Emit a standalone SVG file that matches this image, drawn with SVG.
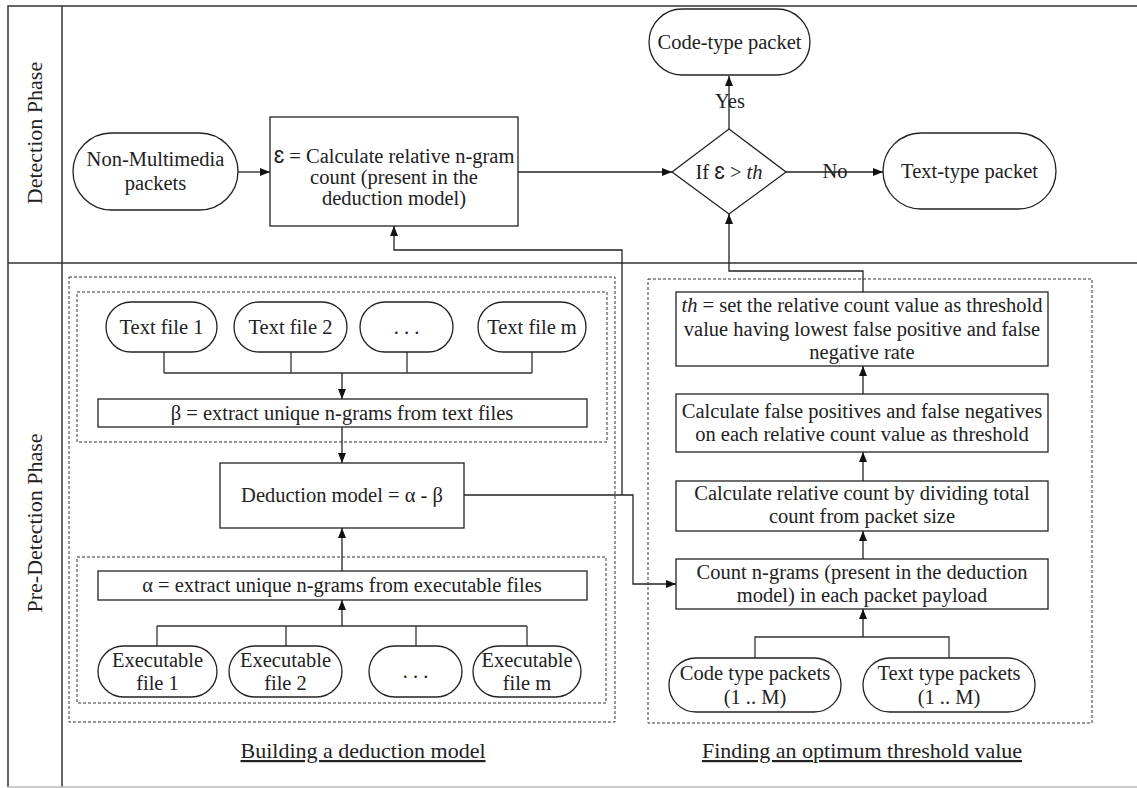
<svg xmlns="http://www.w3.org/2000/svg" width="1137" height="788" viewBox="0 0 1137 788">
<style>
  .t{font-family:"Liberation Serif","Times New Roman",serif;font-size:20.5px;fill:#222;text-anchor:middle}
  .lbl{font-family:"Liberation Serif","Times New Roman",serif;font-size:22px;fill:#222;text-anchor:middle}
  .ul{text-decoration:underline}
  .s{fill:#fff;stroke:#222;stroke-width:1.3}
  .frame{fill:none;stroke:#333;stroke-width:1.5}
  .dash{fill:none;stroke:#333;stroke-width:1;stroke-dasharray:3 2}
  .c{fill:none;stroke:#333;stroke-width:1.3}
  .ca{fill:none;stroke:#222;stroke-width:1.3;marker-end:url(#ah)}
  .eps{font-family:"Liberation Sans",Arial,sans-serif}
</style>
<defs>
  <marker id="ah" markerUnits="userSpaceOnUse" markerWidth="11" markerHeight="8" refX="10" refY="4" orient="auto">
    <path d="M0,0 L10,4 L0,8 z" fill="#111"/>
  </marker>
</defs>
<rect width="1137" height="788" fill="#fff"/>

<g id="frame">
  <path class="frame" d="M1137,6 H8 V787 M62,6 V787 M8,263 H1137"/>
  <path d="M8,787 H1137" stroke="#bbb" stroke-width="1.5" fill="none"/>
  <text class="lbl" transform="translate(42,133) rotate(-90)">Detection Phase</text>
  <text class="lbl" transform="translate(42,523) rotate(-90)">Pre-Detection Phase</text>
</g>

<g id="groups">
  <rect class="dash" x="69" y="277" width="546" height="445"/>
  <rect class="dash" x="77" y="292" width="530" height="150"/>
  <rect class="dash" x="77" y="557" width="529" height="146"/>
  <rect class="dash" x="648" y="279" width="444" height="444"/>
  <text class="lbl ul" x="363" y="758">Building a deduction model</text>
  <text class="lbl ul" x="862" y="758">Finding an optimum threshold value</text>
</g>

<g id="connectors">
  <path class="ca" d="M238,172 H270"/>
  <path class="ca" d="M518,172 H672"/>
  <path class="ca" d="M729,129 V76"/>
  <path class="ca" d="M786,172 H883"/>
  <path class="ca" d="M863,292 V271 H729 V214"/>
  <path class="c" d="M164,352 V373 M291,352 V373 M407,352 V373 M532,352 V373 M164,373 H532"/>
  <path class="ca" d="M342,373 V399" stroke-width="1.8"/>
  <path class="ca" d="M342,427 V463"/>
  <path class="ca" d="M342,571 V528"/>
  <path class="c" d="M157,646 V626 M286,646 V626 M416,646 V626 M527,646 V626 M157,626 H527"/>
  <path class="ca" d="M342,626 V600" stroke-width="1.8"/>
  <path class="ca" d="M464,495 H633 V584 H676"/>
  <path class="ca" d="M622,495 V250 H394 V226"/>
  <path class="ca" d="M863,394 V366"/>
  <path class="ca" d="M863,481 V452"/>
  <path class="ca" d="M863,559 V531"/>
  <path class="c" d="M755,658 V637 H949 V658"/>
  <path class="ca" d="M863,637 V609"/>
</g>

<g id="non-multimedia">
  <rect class="s" x="73" y="133" width="165" height="77" rx="38.5"/>
  <text class="t" x="155.5" y="166">Non-Multimedia</text>
  <text class="t" x="155.5" y="190">packets</text>
</g>

<g id="epsilon-box">
  <rect class="s" x="270" y="117" width="248" height="109"/>
  <text class="t" x="394" y="163"><tspan class="eps" font-size="23px">ɛ</tspan> = Calculate relative n-gram</text>
  <text class="t" x="394" y="184">count (present in the</text>
  <text class="t" x="394" y="205">deduction model)</text>
</g>

<g id="decision">
  <polygon class="s" points="672,172 729,129 786,172 729,214"/>
  <text class="t" x="729" y="179">If <tspan class="eps" font-size="23px">ɛ</tspan> &gt; <tspan font-style="italic">th</tspan></text>
</g>

<g id="code-type-packet">
  <rect class="s" x="649" y="9" width="161" height="66" rx="33"/>
  <text class="t" x="729.5" y="49">Code-type packet</text>
</g>

<g id="text-type-packet">
  <rect class="s" x="883" y="133" width="173" height="76" rx="38"/>
  <text class="t" x="969.5" y="178">Text-type packet</text>
</g>

<g id="yes-label"><text class="t" x="730" y="108">Yes</text></g>
<g id="no-label"><text class="t" x="835" y="178">No</text></g>

<g id="text-file-1">
  <rect class="s" x="106" y="302" width="111" height="50" rx="25"/>
  <text class="t" x="161.5" y="334">Text file 1</text>
</g>
<g id="text-file-2">
  <rect class="s" x="234" y="302" width="113" height="50" rx="25"/>
  <text class="t" x="290.5" y="334">Text file 2</text>
</g>
<g id="text-file-dots">
  <rect class="s" x="360" y="302" width="93" height="50" rx="25"/>
  <text class="t" x="406.5" y="334">. . .</text>
</g>
<g id="text-file-m">
  <rect class="s" x="478" y="302" width="108" height="50" rx="25"/>
  <text class="t" x="532" y="334">Text file m</text>
</g>

<g id="beta-box">
  <rect class="s" x="98" y="399" width="489" height="28"/>
  <text class="t" x="342" y="420">β = extract unique n-grams from text files</text>
</g>

<g id="deduction-model">
  <rect class="s" x="220" y="463" width="244" height="65"/>
  <text class="t" x="342" y="502">Deduction model = α - β</text>
</g>

<g id="alpha-box">
  <rect class="s" x="98" y="571" width="489" height="29"/>
  <text class="t" x="342" y="592">α = extract unique n-grams from executable files</text>
</g>

<g id="exec-file-1">
  <rect class="s" x="98" y="646" width="119" height="51" rx="25.5"/>
  <text class="t" x="157.5" y="667">Executable</text>
  <text class="t" x="157.5" y="690">file 1</text>
</g>
<g id="exec-file-2">
  <rect class="s" x="229" y="646" width="113" height="51" rx="25.5"/>
  <text class="t" x="285.5" y="667">Executable</text>
  <text class="t" x="285.5" y="690">file 2</text>
</g>
<g id="exec-file-dots">
  <rect class="s" x="369" y="646" width="93" height="51" rx="25.5"/>
  <text class="t" x="415.5" y="678">. . .</text>
</g>
<g id="exec-file-m">
  <rect class="s" x="473" y="646" width="108" height="51" rx="25.5"/>
  <text class="t" x="527" y="667">Executable</text>
  <text class="t" x="527" y="690">file m</text>
</g>

<g id="threshold-box">
  <rect class="s" x="676" y="292" width="372" height="74"/>
  <text class="t" x="862" y="312"><tspan font-style="italic">th</tspan> = set the relative count value as threshold</text>
  <text class="t" x="862" y="336">value having lowest false positive and false</text>
  <text class="t" x="862" y="359">negative rate</text>
</g>

<g id="fp-fn-box">
  <rect class="s" x="676" y="394" width="372" height="58"/>
  <text class="t" x="862" y="418">Calculate false positives and false negatives</text>
  <text class="t" x="862" y="441">on each relative count value as threshold</text>
</g>

<g id="relative-count-box">
  <rect class="s" x="676" y="481" width="372" height="50"/>
  <text class="t" x="862" y="500">Calculate relative count by dividing total</text>
  <text class="t" x="862" y="523">count from packet size</text>
</g>

<g id="count-ngrams-box">
  <rect class="s" x="676" y="559" width="372" height="50"/>
  <text class="t" x="862" y="579">Count n-grams (present in the deduction</text>
  <text class="t" x="862" y="602">model) in each packet payload</text>
</g>

<g id="code-type-packets">
  <rect class="s" x="669" y="658" width="172" height="54" rx="27"/>
  <text class="t" x="755" y="680">Code type packets</text>
  <text class="t" x="755" y="704">(1 .. M)</text>
</g>
<g id="text-type-packets">
  <rect class="s" x="863" y="658" width="172" height="54" rx="27"/>
  <text class="t" x="949" y="680">Text type packets</text>
  <text class="t" x="949" y="704">(1 .. M)</text>
</g>
</svg>
